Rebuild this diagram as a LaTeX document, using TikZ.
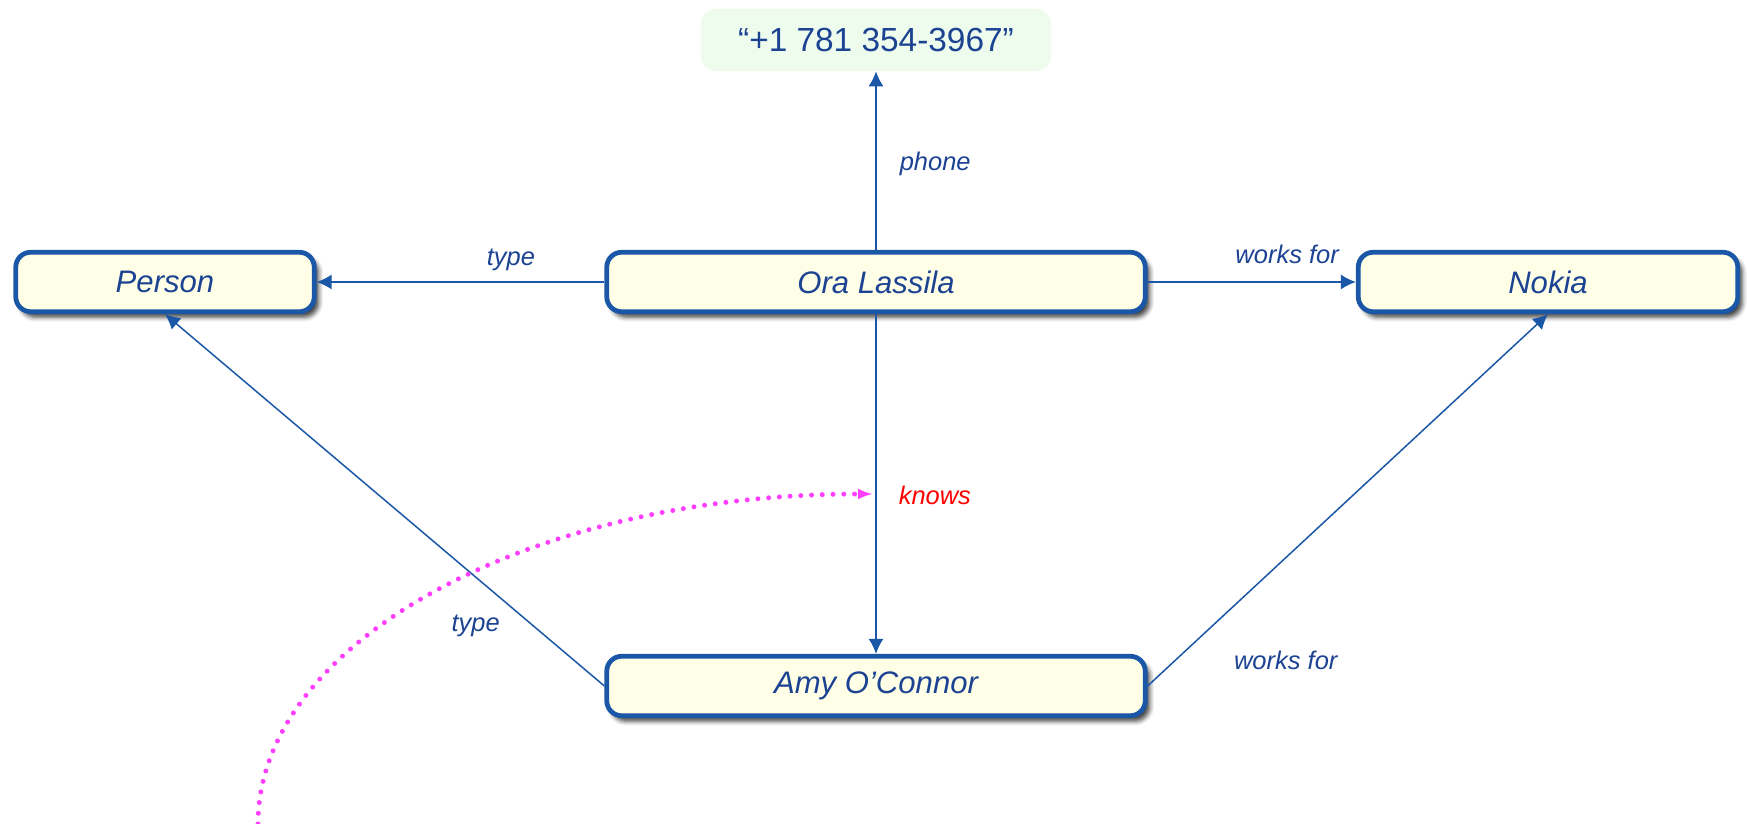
\documentclass[tikz,border=0pt]{standalone}
\usepackage{fontspec}
\setmainfont{Liberation Sans}
\usetikzlibrary{arrows.meta,shadows.blur}
\definecolor{rdfblue}{RGB}{26,87,166}
\definecolor{rdftext}{RGB}{28,66,146}
\definecolor{rdffill}{RGB}{255,255,232}
\definecolor{litfill}{RGB}{238,252,238}
\definecolor{knowsmag}{RGB}{255,64,255}
\tikzset{
  resource/.style = {
    draw=rdfblue, line width=0.95mm, fill=rdffill, rounded corners=3mm,
    minimum height=11.9mm, text=rdftext,
    font=\fontsize{17.7}{20}\selectfont\itshape,
    blur shadow={shadow xshift=0.9mm, shadow yshift=-1.1mm,
      shadow blur radius=0.9mm, shadow opacity=75}
  },
  literal/.style = {
    fill=litfill, rounded corners=3mm, minimum width=70mm, minimum height=12.4mm,
    text=rdftext, font=\fontsize{19}{22}\selectfont
  },
  link/.style  = {draw=rdfblue, line width=0.3mm},
  lbl/.style   = {text=rdftext, font=\fontsize{14.5}{16}\selectfont\itshape, inner sep=0pt},
  knowsarc/.style = {draw=knowsmag, line width=1mm, line cap=round,
    dash pattern=on 0pt off 2.15mm}
}
\tikzset{>={Latex[length=3mm,width=3mm]}}

\begin{document}
\begin{tikzpicture}[x=0.2mm,y=0.2mm]
  \useasboundingbox (0,0) rectangle (1747,824);
  % resources
  \node[resource, minimum width=59.7mm]  (person) at (165,542)  {Person};
  \node[resource, minimum width=107.7mm] (ora)    at (876,542)  {Ora Lassila};
  \node[resource, minimum width=75.9mm]  (nokia)  at (1548,542) {Nokia};
  \node[resource, minimum width=107.7mm] (amy)    at (876,138)  {Amy O’Connor};
  \node[literal] (lit) at (876,784) {“+1 781 354-3967”};
  % properties
  \draw[link,->] (ora) -- (lit) node[lbl, pos=0.48, right=4.6mm] {phone};
  \draw[link,->] (ora) -- (person) node[lbl, pos=0.325, above=2mm] {type};
  \draw[link,->] (ora) -- (nokia) node[lbl, pos=0.67, above=3.4mm] {works for};
  \draw[link,->] (ora) -- (amy) node[lbl, text=red, pos=0.535, right=4.4mm] {knows};
  \draw[link,->] (amy.west) -- (person.south) node[lbl, pos=0.293, below=7.5mm] {type};
  \draw[link,->] (amy.east) -- (nokia.south) node[lbl, pos=0.345, below=18.5mm] {works for};
  % knows as a resource
  \coordinate (kstart) at (258,0);
  \coordinate (kend) at (873,330);
  \draw[knowsarc,-{Latex[length=3mm,width=2.2mm]}] (kstart) .. controls (258,182) and (531,330) .. (kend);
\end{tikzpicture}
\end{document}
